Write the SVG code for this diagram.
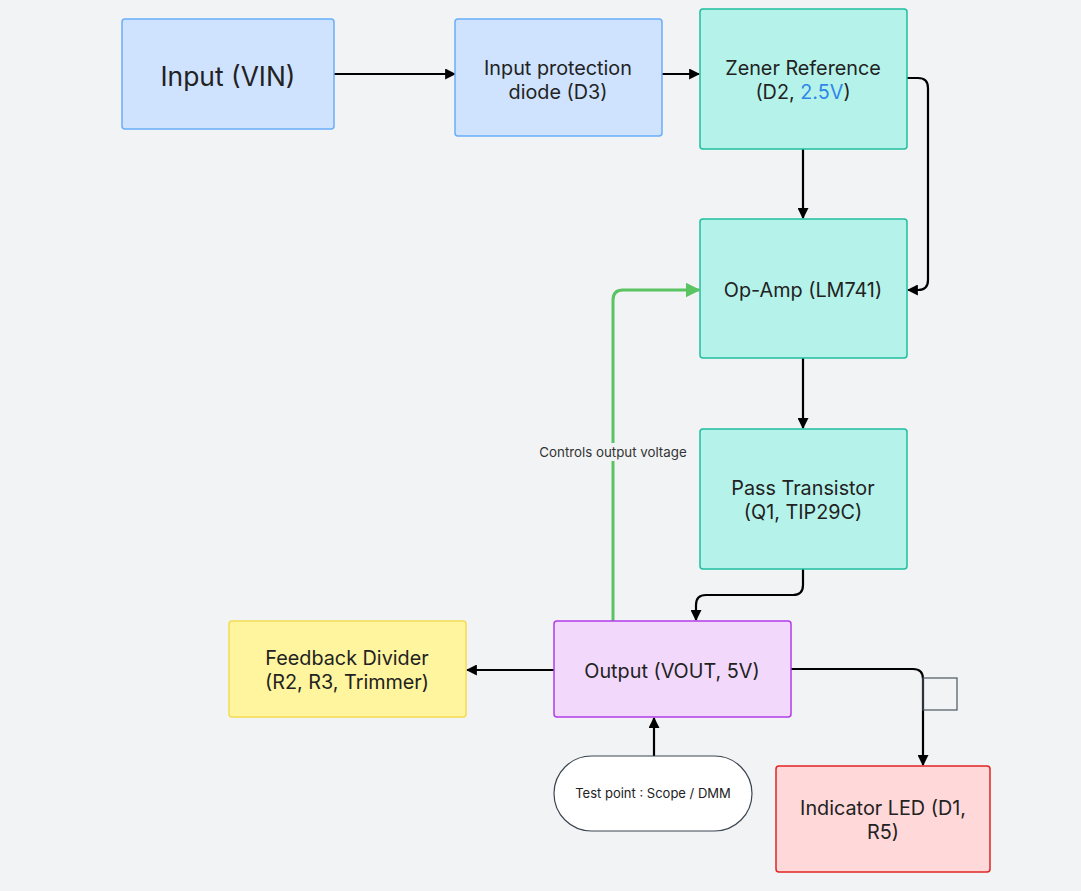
<svg xmlns="http://www.w3.org/2000/svg" width="1081" height="891" viewBox="0 0 1081 891">
<defs>
<marker id="ah" viewBox="0 0 10 10" refX="9" refY="5" markerWidth="5" markerHeight="5" orient="auto-start-reverse" markerUnits="strokeWidth"><path d="M0,0 L10,5 L0,10 z" fill="#000"/></marker>
<marker id="ag" viewBox="0 0 10 10" refX="9" refY="5" markerWidth="5" markerHeight="5" orient="auto-start-reverse" markerUnits="strokeWidth"><path d="M0,0 L10,5 L0,10 z" fill="#5ac463"/></marker>
<style>
text{font-family:Inter,"Noto Sans","Liberation Sans",sans-serif;fill:#222;text-anchor:middle;dominant-baseline:central}
.t18{font-size:19.8px}
.blue rect{fill:#cfe3fe;stroke:#6aaef8;stroke-width:1.5}
.teal rect{fill:#b5f3ea;stroke:#1fbf9f;stroke-width:1.5}
.purp rect{fill:#f2d9fc;stroke:#b23ce8;stroke-width:1.5}
.yel rect{fill:#fff59e;stroke:#f4dc52;stroke-width:1.5}
.red rect{fill:#ffd8da;stroke:#e22424;stroke-width:1.5}
.c{fill:none;stroke:#000;stroke-width:2.2;marker-end:url(#ah)}
</style>
</defs>
<rect width="1081" height="891" fill="#f2f3f5"/>
<g id="connectors">
<path class="c" d="M334,74 H455"/>
<path class="c" d="M662,74 H699"/>
<path class="c" d="M803,149 V218"/>
<path class="c" d="M907,78 H918 Q928,78 928,88 V280 Q928,290 918,290 H908"/>
<path class="c" d="M803,358 V428"/>
<path class="c" d="M803,569 V585 Q803,595 793,595 H706 Q696,595 696,605 V620"/>
<path class="c" d="M554,670 H467"/>
<path class="c" d="M791,669 H913 Q923,669 923,679 V765"/>
<path class="c" d="M654,756 V718"/>
<path d="M613,621 V300 Q613,290 623,290 H699" fill="none" stroke="#5ac463" stroke-width="3" marker-end="url(#ag)"/>
<rect x="537" y="443" width="152" height="18" fill="#f2f3f5"/>
<text x="613" y="452" style="font-size:13.3px;fill:#333">Controls output voltage</text>
<rect x="923" y="678" width="34" height="32" fill="none" stroke="#4a5560" stroke-width="1.2"/>
</g>
<g id="input" class="blue"><rect x="122" y="19" width="212" height="110" rx="3"/><text x="228" y="76" style="font-size:26.4px">Input (VIN)</text></g>
<g id="diode" class="blue"><rect x="455" y="19" width="207" height="117" rx="3"/><text class="t18" x="558" y="68">Input protection</text><text class="t18" x="558" y="92">diode (D3)</text></g>
<g id="zener" class="teal"><rect x="700" y="9" width="207" height="140" rx="3"/><text class="t18" x="803" y="68">Zener Reference</text><text class="t18" x="803" y="92">(D2, <tspan style="fill:#2f86e8">2.5V</tspan>)</text></g>
<g id="opamp" class="teal"><rect x="700" y="219" width="207" height="139" rx="3"/><text class="t18" x="803" y="290">Op-Amp (LM741)</text></g>
<g id="pass" class="teal"><rect x="700" y="429" width="207" height="140" rx="3"/><text class="t18" x="803" y="488">Pass Transistor</text><text class="t18" x="803" y="512">(Q1, TIP29C)</text></g>
<g id="output" class="purp"><rect x="554" y="621" width="237" height="96" rx="3"/><text class="t18" x="672" y="671">Output (VOUT, 5V)</text></g>
<g id="feedback" class="yel"><rect x="229" y="621" width="237" height="96" rx="3"/><text class="t18" x="347" y="658">Feedback Divider</text><text class="t18" x="347" y="682">(R2, R3, Trimmer)</text></g>
<g id="testpoint"><rect x="554" y="756" width="198" height="75" rx="37.5" fill="#fff" stroke="#3c4650" stroke-width="1.2"/><text x="653" y="793" style="font-size:13px">Test point : Scope / DMM</text></g>
<g id="led" class="red"><rect x="776" y="766" width="214" height="106" rx="3"/><text class="t18" x="883" y="808">Indicator LED (D1,</text><text class="t18" x="883" y="832">R5)</text></g>
</svg>
